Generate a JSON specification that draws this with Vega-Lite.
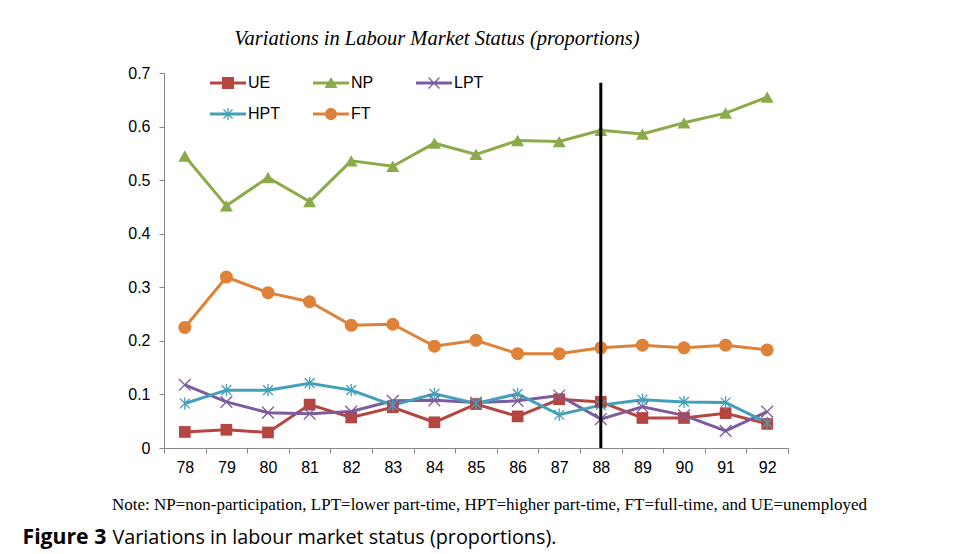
{
  "$schema": "https://vega.github.io/schema/vega-lite/v6.json",
  "width": 624,
  "height": 375,
  "autosize": {"type": "none"},
  "padding": {"left": 164, "top": 73, "right": 167, "bottom": 106},
  "background": "white",
  "config": {"view": {"stroke": null}, "font": "Liberation Sans"},
  "title": {
    "text": "Variations in Labour Market Status (proportions)",
    "font": "Liberation Serif",
    "fontStyle": "italic",
    "fontWeight": "normal",
    "fontSize": 20.5,
    "color": "black",
    "anchor": "middle",
    "frame": "group",
    "dx": -39,
    "offset": 16
  },
  "data": {
    "values": [
      {"year": "78", "series": "UE", "value": 0.030},
      {"year": "79", "series": "UE", "value": 0.034},
      {"year": "80", "series": "UE", "value": 0.029},
      {"year": "81", "series": "UE", "value": 0.081},
      {"year": "82", "series": "UE", "value": 0.057},
      {"year": "83", "series": "UE", "value": 0.076},
      {"year": "84", "series": "UE", "value": 0.048},
      {"year": "85", "series": "UE", "value": 0.082},
      {"year": "86", "series": "UE", "value": 0.059},
      {"year": "87", "series": "UE", "value": 0.091},
      {"year": "88", "series": "UE", "value": 0.086},
      {"year": "89", "series": "UE", "value": 0.056},
      {"year": "90", "series": "UE", "value": 0.056},
      {"year": "91", "series": "UE", "value": 0.065},
      {"year": "92", "series": "UE", "value": 0.045},
      {"year": "78", "series": "NP", "value": 0.545},
      {"year": "79", "series": "NP", "value": 0.452},
      {"year": "80", "series": "NP", "value": 0.505},
      {"year": "81", "series": "NP", "value": 0.460},
      {"year": "82", "series": "NP", "value": 0.536},
      {"year": "83", "series": "NP", "value": 0.526},
      {"year": "84", "series": "NP", "value": 0.569},
      {"year": "85", "series": "NP", "value": 0.548},
      {"year": "86", "series": "NP", "value": 0.574},
      {"year": "87", "series": "NP", "value": 0.572},
      {"year": "88", "series": "NP", "value": 0.593},
      {"year": "89", "series": "NP", "value": 0.586},
      {"year": "90", "series": "NP", "value": 0.607},
      {"year": "91", "series": "NP", "value": 0.625},
      {"year": "92", "series": "NP", "value": 0.655},
      {"year": "78", "series": "LPT", "value": 0.118},
      {"year": "79", "series": "LPT", "value": 0.086},
      {"year": "80", "series": "LPT", "value": 0.066},
      {"year": "81", "series": "LPT", "value": 0.064},
      {"year": "82", "series": "LPT", "value": 0.068},
      {"year": "83", "series": "LPT", "value": 0.088},
      {"year": "84", "series": "LPT", "value": 0.089},
      {"year": "85", "series": "LPT", "value": 0.085},
      {"year": "86", "series": "LPT", "value": 0.088},
      {"year": "87", "series": "LPT", "value": 0.098},
      {"year": "88", "series": "LPT", "value": 0.054},
      {"year": "89", "series": "LPT", "value": 0.077},
      {"year": "90", "series": "LPT", "value": 0.061},
      {"year": "91", "series": "LPT", "value": 0.032},
      {"year": "92", "series": "LPT", "value": 0.068},
      {"year": "78", "series": "HPT", "value": 0.083},
      {"year": "79", "series": "HPT", "value": 0.108},
      {"year": "80", "series": "HPT", "value": 0.108},
      {"year": "81", "series": "HPT", "value": 0.121},
      {"year": "82", "series": "HPT", "value": 0.108},
      {"year": "83", "series": "HPT", "value": 0.080},
      {"year": "84", "series": "HPT", "value": 0.101},
      {"year": "85", "series": "HPT", "value": 0.083},
      {"year": "86", "series": "HPT", "value": 0.101},
      {"year": "87", "series": "HPT", "value": 0.062},
      {"year": "88", "series": "HPT", "value": 0.080},
      {"year": "89", "series": "HPT", "value": 0.090},
      {"year": "90", "series": "HPT", "value": 0.086},
      {"year": "91", "series": "HPT", "value": 0.085},
      {"year": "92", "series": "HPT", "value": 0.047},
      {"year": "78", "series": "FT", "value": 0.225},
      {"year": "79", "series": "FT", "value": 0.319},
      {"year": "80", "series": "FT", "value": 0.290},
      {"year": "81", "series": "FT", "value": 0.273},
      {"year": "82", "series": "FT", "value": 0.229},
      {"year": "83", "series": "FT", "value": 0.231},
      {"year": "84", "series": "FT", "value": 0.190},
      {"year": "85", "series": "FT", "value": 0.201},
      {"year": "86", "series": "FT", "value": 0.176},
      {"year": "87", "series": "FT", "value": 0.176},
      {"year": "88", "series": "FT", "value": 0.187},
      {"year": "89", "series": "FT", "value": 0.192},
      {"year": "90", "series": "FT", "value": 0.187},
      {"year": "91", "series": "FT", "value": 0.192},
      {"year": "92", "series": "FT", "value": 0.183}
    ]
  },
  "encoding": {
    "x": {
      "field": "year",
      "type": "ordinal",
      "scale": {"type": "band", "paddingInner": 0, "paddingOuter": 0},
      "axis": {
        "title": "Note: NP=non-participation, LPT=lower part-time, HPT=higher part-time, FT=full-time, and UE=unemployed",
        "titleFont": "Liberation Serif",
        "titleFontSize": 17,
        "titleFontWeight": "normal",
        "titleColor": "black",
        "titleX": 325,
        "titleY": 56,
        "titleAlign": "center",
        "titleBaseline": "middle",
        "labelAngle": 0,
        "labelFont": "Liberation Sans",
        "labelFontSize": 16,
        "labelColor": "black",
        "labelPadding": 6,
        "tickBand": "extent",
        "tickSize": 5,
        "tickColor": "#868686",
        "domainColor": "#868686",
        "grid": false
      }
    }
  },
  "layer": [
    {
      "mark": {"type": "line", "strokeWidth": 3},
      "encoding": {
        "y": {
          "field": "value",
          "type": "quantitative",
          "scale": {"domain": [0, 0.7], "nice": false},
          "axis": {
            "orient": "left",
            "values": [0, 0.1, 0.2, 0.3, 0.4, 0.5, 0.6, 0.7],
            "labelExpr": "datum.value == 0 ? '0' : format(datum.value, '.1f')",
            "labelFont": "Liberation Sans",
            "labelFontSize": 16,
            "labelColor": "black",
            "labelPadding": 9,
            "tickSize": 5,
            "tickColor": "#868686",
            "domainColor": "#868686",
            "grid": false,
            "title": "Figure 3",
            "titleFont": "Open Sans",
            "titleFontSize": 21.2,
            "titleFontWeight": "bold",
            "titleColor": "black",
            "titleAngle": 0,
            "titleX": -142,
            "titleY": 464,
            "titleAlign": "left",
            "titleBaseline": "middle"
          }
        },
        "color": {
          "field": "series",
          "type": "nominal",
          "scale": {"domain": ["UE", "NP", "LPT", "HPT", "FT"], "range": ["#B5463F", "#8DAA4A", "#7C5C9E", "#43A0BA", "#DD8238"]},
          "legend": null
        }
      }
    },
    {
      "mark": {"type": "point", "filled": true, "opacity": 1, "size": 169, "strokeWidth": 0},
      "encoding": {
        "y": {"field": "value", "type": "quantitative", "scale": {"domain": [0, 0.7], "nice": false}, "axis": null},
        "color": {
          "field": "series",
          "type": "nominal",
          "scale": {"domain": ["UE", "NP", "LPT", "HPT", "FT"], "range": ["#B5463F", "#8DAA4A", "#7C5C9E", "#43A0BA", "#DD8238"]},
          "legend": null
        },
        "shape": {
          "field": "series",
          "type": "nominal",
          "scale": {
            "domain": ["UE", "NP", "LPT", "HPT", "FT"],
            "range": [
              "M-0.9,-0.9H0.9V0.9H-0.9Z",
              "M0,-0.875L1,0.875H-1Z",
              "M-0.829,-0.971L0.971,0.829L0.829,0.971L-0.971,-0.829ZM-0.829,0.971L-0.971,0.829L0.829,-0.971L0.971,-0.829Z",
              "M-0.679,-0.821L0.821,0.679L0.679,0.821L-0.821,-0.679ZM-0.679,0.821L-0.821,0.679L0.679,-0.821L0.821,-0.679ZM-0.1,-0.95H0.1V0.95H-0.1Z",
              "circle"
            ]
          },
          "legend": null
        }
      }
    },
    {
      "mark": {"type": "point", "filled": true, "opacity": 0, "size": 400, "strokeWidth": 0},
      "encoding": {
        "y": {"field": "value", "type": "quantitative", "scale": {"domain": [0, 0.7], "nice": false}, "axis": null},
        "color": {
          "field": "series",
          "type": "nominal",
          "scale": {"domain": ["UE", "NP", "LPT", "HPT", "FT"], "range": ["#B5463F", "#8DAA4A", "#7C5C9E", "#43A0BA", "#DD8238"]},
          "legend": {
            "orient": "none", "legendX": 54, "legendY": 0, "title": null, "columns": 3, "direction": "horizontal", "gridAlign": "all",
            "columnPadding": 33, "rowPadding": 13, "symbolSize": 400, "symbolStrokeWidth": 0, "symbolOpacity": 1,
            "labelFont": "Liberation Sans", "labelFontSize": 16, "labelColor": "black", "labelOffset": 10, "padding": 0
          }
        },
        "shape": {
          "field": "series",
          "type": "nominal",
          "scale": {
            "domain": ["UE", "NP", "LPT", "HPT", "FT"],
            "range": [
              "M-1.8,-0.15H1.8V0.15H-1.8ZM-0.6,-0.6H0.6V0.6H-0.6Z",
              "M-1.8,-0.15H1.8V0.15H-1.8ZM0,-0.6L0.65,0.5H-0.65Z",
              "M-1.8,-0.15H1.8V0.15H-1.8ZM-0.508,-0.592L0.592,0.508L0.508,0.592L-0.592,-0.508ZM-0.508,0.592L-0.592,0.508L0.508,-0.592L0.592,-0.508Z",
              "M-1.8,-0.15H1.8V0.15H-1.8ZM-0.408,-0.492L0.492,0.408L0.408,0.492L-0.492,-0.408ZM-0.408,0.492L-0.492,0.408L0.408,-0.492L0.492,-0.408ZM-0.06,-0.6H0.06V0.6H-0.06Z",
              "M-1.8,-0.15H1.8V0.15H-1.8ZM-0.6,0A0.6,0.6,0,1,1,0.6,0A0.6,0.6,0,1,1,-0.6,0Z"
            ]
          },
          "legend": {
            "orient": "none", "legendX": 54, "legendY": 0, "title": null, "columns": 3, "direction": "horizontal", "gridAlign": "all",
            "columnPadding": 33, "rowPadding": 13, "symbolSize": 400, "symbolStrokeWidth": 0, "symbolOpacity": 1,
            "labelFont": "Liberation Sans", "labelFontSize": 16, "labelColor": "black", "labelOffset": 10, "padding": 0
          }
        }
      }
    },
    {
      "data": {"values": [{"year": "88", "top": 0.682}]},
      "mark": {"type": "rule", "strokeWidth": 3, "color": "black"},
      "encoding": {
        "y": {
          "field": "top",
          "type": "quantitative",
          "scale": {"domain": [0, 0.7], "nice": false},
          "axis": {
            "orient": "left",
            "labels": false,
            "ticks": false,
            "domain": false,
            "grid": false,
            "title": "Variations in labour market status (proportions).",
            "titleFont": "Open Sans",
            "titleFontSize": 19.8,
            "titleFontWeight": "normal",
            "titleColor": "black",
            "titleAngle": 0,
            "titleX": -52,
            "titleY": 464,
            "titleAlign": "left",
            "titleBaseline": "middle"
          }
        },
        "y2": {"datum": 0}
      }
    }
  ],
  "resolve": {"axis": {"y": "independent"}, "scale": {"color": "independent", "shape": "independent"}}
}
